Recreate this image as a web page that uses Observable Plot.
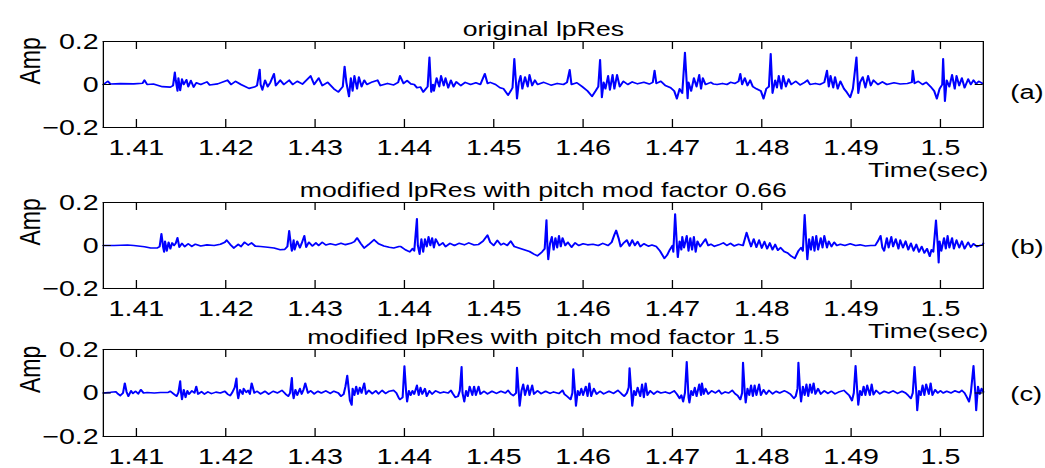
<!DOCTYPE html>
<html>
<head>
<meta charset="utf-8">
<script src="https://cdn.jsdelivr.net/npm/d3@7"></script>
<script src="https://cdn.jsdelivr.net/npm/@observablehq/plot@0.6"></script>
<style>
  html, body { margin: 0; padding: 0; background: #ffffff; }
  #wrap { position: relative; width: 1045px; height: 468px; overflow: hidden; background: #ffffff; }
  #wrap svg { position: absolute; left: 0; top: 0; transform-origin: 0 0; transform: scaleX(1.3); }
</style>
</head>
<body>
<div id="wrap"></div>
<script>
// ---- data (time in seconds, amplitude) ----
const xTicks = [1.41, 1.42, 1.43, 1.44, 1.45, 1.46, 1.47, 1.48, 1.49, 1.5];
const xTickLabels = ["1.41", "1.42", "1.43", "1.44", "1.45", "1.46", "1.47", "1.48", "1.49", "1.5"];
const yTicks = [-0.2, 0, 0.2];
const yTickLabels = ["\u22120.2", "0", "0.2"];
const titles = ["original lpRes", "modified lpRes with pitch mod factor 0.66", "modified lpRes with pitch mod factor 1.5"];
const tags = ["(a)", "(b)", "(c)"];

const originalRes = [
[1.4063,0.0],[1.4068,0.015],[1.4071,0.002],[1.4082,0.004],[1.4097,0.003],[1.4107,0.006],[1.4109,0.02],[1.4112,0.0],[1.4119,0.002],[1.4129,-0.01],
[1.4138,-0.012],[1.4141,-0.005],[1.4143,0.057],[1.4144,0.02],[1.4146,-0.03],[1.4147,0.03],[1.4149,-0.028],[1.4151,0.025],[1.4153,0.0],[1.4156,0.022],
[1.4158,-0.01],[1.4161,0.018],[1.4164,-0.012],[1.4167,0.008],[1.4172,0.0],[1.4179,0.012],[1.4182,-0.002],[1.4191,0.003],[1.4202,0.02],[1.4206,0.0],
[1.4211,0.015],[1.4217,0.0],[1.4226,-0.018],[1.4232,-0.012],[1.4235,-0.005],[1.4238,0.07],[1.4239,0.0],[1.4241,-0.025],[1.4244,0.02],[1.4247,-0.01],
[1.4250,0.01],[1.4254,0.05],[1.4256,-0.005],[1.4261,0.02],[1.4265,0.0],[1.4271,0.02],[1.4275,0.0],[1.4280,0.015],[1.4286,0.002],[1.4295,0.04],
[1.4299,0.0],[1.4304,0.03],[1.4308,-0.005],[1.4314,0.01],[1.4321,-0.02],[1.4326,-0.035],[1.4331,-0.01],[1.4333,0.084],[1.4335,0.01],[1.4338,-0.056],
[1.4340,0.03],[1.4342,-0.03],[1.4344,0.04],[1.4347,-0.02],[1.4349,0.035],[1.4352,-0.01],[1.4355,0.02],[1.4358,0.0],[1.4364,0.012],[1.4370,0.02],
[1.4373,-0.005],[1.4381,0.005],[1.4388,-0.002],[1.4393,0.01],[1.4395,0.04],[1.4399,0.005],[1.4403,0.018],[1.4407,0.003],[1.4411,0.0],[1.4414,-0.015],
[1.4418,-0.012],[1.4421,-0.035],[1.4424,-0.02],[1.4426,-0.01],[1.4428,0.127],[1.4430,-0.035],[1.4432,0.0],[1.4433,-0.03],[1.4436,0.03],[1.4439,-0.01],
[1.4441,0.04],[1.4444,-0.005],[1.4446,0.03],[1.4449,-0.015],[1.4452,0.02],[1.4455,-0.01],[1.4458,0.012],[1.4463,-0.005],[1.4468,0.01],[1.4474,0.0],
[1.4480,0.008],[1.4485,0.0],[1.4490,0.05],[1.4493,0.005],[1.4496,0.01],[1.4502,0.0],[1.4507,-0.015],[1.4511,-0.02],[1.4516,-0.05],[1.4519,-0.03],
[1.4521,-0.015],[1.4523,0.12],[1.4525,0.0],[1.4526,-0.066],[1.4528,0.01],[1.4530,0.04],[1.4532,-0.02],[1.4535,0.035],[1.4538,-0.01],[1.4540,0.045],
[1.4543,-0.005],[1.4546,0.02],[1.4549,0.0],[1.4556,0.01],[1.4564,-0.003],[1.4571,0.005],[1.4578,0.0],[1.4582,0.01],[1.4585,0.068],[1.4587,0.0],
[1.4593,0.008],[1.4599,-0.01],[1.4605,-0.03],[1.4610,-0.055],[1.4614,-0.03],[1.4617,-0.01],[1.4619,0.115],[1.4621,-0.06],[1.4623,0.01],[1.4625,-0.02],
[1.4628,0.04],[1.4630,-0.025],[1.4633,0.045],[1.4635,-0.02],[1.4638,0.045],[1.4641,-0.01],[1.4645,0.015],[1.4650,0.0],[1.4655,0.012],[1.4661,0.003],
[1.4668,0.01],[1.4674,0.002],[1.4678,0.01],[1.4680,0.065],[1.4682,0.005],[1.4687,0.015],[1.4692,-0.005],[1.4698,-0.015],[1.4702,-0.03],[1.4705,-0.066],
[1.4708,-0.02],[1.4711,-0.04],[1.4714,0.149],[1.4717,-0.065],[1.4718,0.01],[1.4721,-0.03],[1.4724,0.03],[1.4727,-0.01],[1.4730,0.045],[1.4732,-0.02],
[1.4734,0.03],[1.4737,0.0],[1.4743,0.01],[1.4746,0.002],[1.4750,0.0],[1.4756,0.005],[1.4761,0.0],[1.4765,0.01],[1.4770,0.005],[1.4774,0.015],
[1.4776,0.05],[1.4778,0.0],[1.4781,0.03],[1.4784,-0.005],[1.4787,0.02],[1.4790,-0.01],[1.4794,-0.02],[1.4799,-0.03],[1.4802,-0.066],[1.4805,-0.02],
[1.4808,-0.01],[1.4810,0.143],[1.4812,-0.04],[1.4815,0.02],[1.4817,-0.015],[1.4819,0.04],[1.4822,-0.02],[1.4824,0.04],[1.4827,-0.01],[1.4830,0.025],
[1.4833,0.0],[1.4838,0.015],[1.4843,-0.002],[1.4848,0.01],[1.4851,0.02],[1.4854,0.0],[1.4860,0.005],[1.4865,0.0],[1.4870,0.01],[1.4873,0.065],
[1.4875,-0.01],[1.4877,0.04],[1.4880,-0.015],[1.4882,0.035],[1.4885,-0.02],[1.4888,0.015],[1.4892,-0.02],[1.4895,-0.035],[1.4899,-0.06],[1.4902,-0.02],
[1.4906,0.127],[1.4908,-0.04],[1.4910,0.01],[1.4913,0.035],[1.4916,-0.015],[1.4919,0.04],[1.4922,-0.005],[1.4925,0.02],[1.4930,0.0],[1.4935,0.012],
[1.4940,0.0],[1.4948,0.008],[1.4955,0.002],[1.4963,0.005],[1.4968,0.01],[1.4969,0.065],[1.4971,0.005],[1.4975,0.015],[1.4980,0.0],[1.4984,0.01],
[1.4989,-0.01],[1.4993,-0.03],[1.4996,-0.066],[1.4999,-0.02],[1.5002,0.0],[1.5003,0.12],[1.5005,-0.078],[1.5007,0.02],[1.5010,-0.01],[1.5013,0.045],
[1.5016,-0.02],[1.5018,0.04],[1.5021,-0.005],[1.5024,0.03],[1.5027,-0.015],[1.5031,0.025],[1.5034,0.0],[1.5037,0.02],[1.5040,0.003],[1.5043,0.015],
[1.5047,0.005]
];

const modifiedRes066 = [
[1.4063,0.0],[1.4075,0.0],[1.4090,0.002],[1.4097,0.0],[1.4109,-0.006],[1.4116,-0.012],[1.4123,-0.012],[1.4126,-0.005],[1.4128,0.054],[1.4130,-0.01],
[1.4131,-0.03],[1.4132,0.02],[1.4134,-0.025],[1.4136,0.015],[1.4138,-0.015],[1.4140,0.012],[1.4142,0.0],[1.4144,0.01],[1.4146,0.036],[1.4148,-0.008],
[1.4151,0.01],[1.4154,-0.005],[1.4158,0.008],[1.4162,-0.004],[1.4166,0.006],[1.4172,-0.002],[1.4179,0.003],[1.4187,0.0],[1.4194,0.006],[1.4199,0.015],
[1.4201,0.025],[1.4205,0.005],[1.4209,-0.012],[1.4214,0.005],[1.4217,-0.005],[1.4221,0.015],[1.4225,0.002],[1.4229,0.012],[1.4233,-0.003],[1.4239,-0.005],
[1.4247,-0.008],[1.4254,-0.012],[1.4261,-0.02],[1.4266,-0.018],[1.4269,-0.005],[1.4271,0.068],[1.4273,0.0],[1.4274,-0.025],[1.4276,0.025],[1.4277,-0.02],
[1.4280,0.02],[1.4283,-0.01],[1.4285,0.01],[1.4288,0.045],[1.4290,-0.008],[1.4293,0.015],[1.4297,-0.002],[1.4301,0.012],[1.4304,0.0],[1.4308,0.015],
[1.4312,0.002],[1.4317,0.008],[1.4323,0.002],[1.4329,0.01],[1.4334,0.004],[1.4340,0.01],[1.4344,0.018],[1.4347,0.035],[1.4351,0.01],[1.4355,-0.012],
[1.4360,0.005],[1.4366,0.027],[1.4371,0.008],[1.4377,-0.002],[1.4383,-0.008],[1.4388,-0.012],[1.4394,-0.005],[1.4396,-0.005],[1.4401,-0.02],[1.4406,-0.03],
[1.4409,-0.015],[1.4411,-0.025],[1.4414,0.124],[1.4415,0.0],[1.4417,-0.04],[1.4419,0.03],[1.4421,-0.03],[1.4423,0.03],[1.4425,-0.005],[1.4427,0.04],
[1.4429,0.0],[1.4431,0.035],[1.4433,-0.01],[1.4435,0.03],[1.4439,0.0],[1.4443,0.012],[1.4446,-0.005],[1.4451,0.01],[1.4456,0.0],[1.4461,0.01],
[1.4467,0.003],[1.4472,0.012],[1.4478,0.002],[1.4483,0.005],[1.4488,0.02],[1.4493,0.048],[1.4496,0.015],[1.4500,0.0],[1.4504,0.024],[1.4508,0.003],
[1.4511,0.01],[1.4515,0.0],[1.4519,0.02],[1.4523,-0.005],[1.4528,-0.012],[1.4534,-0.02],[1.4540,-0.028],[1.4545,-0.04],[1.4549,-0.048],[1.4554,-0.03],
[1.4557,-0.015],[1.4559,0.118],[1.4560,0.0],[1.4561,-0.065],[1.4563,0.01],[1.4565,0.04],[1.4567,-0.02],[1.4569,0.035],[1.4571,-0.01],[1.4573,0.045],
[1.4575,-0.005],[1.4577,0.035],[1.4580,0.0],[1.4583,0.015],[1.4587,-0.008],[1.4591,0.012],[1.4595,0.0],[1.4600,0.008],[1.4605,0.003],[1.4611,0.006],
[1.4617,0.0],[1.4622,0.01],[1.4628,0.0],[1.4632,0.015],[1.4635,0.05],[1.4637,0.07],[1.4640,0.03],[1.4642,-0.005],[1.4645,0.01],[1.4649,0.025],
[1.4652,-0.002],[1.4655,0.025],[1.4658,0.0],[1.4661,0.018],[1.4664,-0.005],[1.4668,0.008],[1.4673,-0.003],[1.4677,0.002],[1.4682,-0.005],[1.4686,-0.025],
[1.4691,-0.06],[1.4694,-0.045],[1.4697,-0.02],[1.4700,0.0],[1.4701,-0.03],[1.4703,0.146],[1.4705,0.0],[1.4706,-0.055],[1.4708,0.02],[1.4710,-0.02],
[1.4711,0.04],[1.4713,-0.01],[1.4716,0.045],[1.4718,-0.025],[1.4720,0.035],[1.4722,-0.02],[1.4724,0.04],[1.4726,-0.03],[1.4728,0.02],[1.4731,-0.005],
[1.4734,0.012],[1.4737,0.03],[1.4740,0.0],[1.4743,0.006],[1.4747,-0.004],[1.4752,0.003],[1.4757,0.012],[1.4761,0.0],[1.4765,0.01],[1.4769,-0.002],
[1.4774,0.006],[1.4779,0.0],[1.4781,0.03],[1.4783,0.06],[1.4786,0.02],[1.4788,-0.005],[1.4791,0.03],[1.4794,-0.008],[1.4797,0.025],[1.4800,-0.012],
[1.4803,0.018],[1.4806,-0.015],[1.4809,0.012],[1.4812,-0.02],[1.4815,0.005],[1.4818,-0.022],[1.4821,-0.01],[1.4825,-0.028],[1.4829,-0.035],[1.4833,-0.05],
[1.4837,-0.06],[1.4841,-0.025],[1.4844,-0.01],[1.4846,-0.025],[1.4848,0.143],[1.4850,0.0],[1.4851,-0.065],[1.4853,0.03],[1.4855,-0.02],[1.4857,0.04],
[1.4859,-0.025],[1.4861,0.045],[1.4863,-0.02],[1.4866,0.035],[1.4868,-0.01],[1.4870,0.045],[1.4873,-0.01],[1.4875,0.02],[1.4878,-0.005],[1.4881,0.015],
[1.4884,0.0],[1.4888,0.006],[1.4893,0.0],[1.4899,0.008],[1.4905,0.0],[1.4910,0.003],[1.4916,-0.002],[1.4922,0.0],[1.4927,0.0],[1.4930,0.02],
[1.4933,0.045],[1.4935,-0.01],[1.4937,-0.025],[1.4940,0.035],[1.4942,-0.01],[1.4945,0.04],[1.4947,-0.005],[1.4950,0.03],[1.4953,-0.015],[1.4955,0.025],
[1.4958,-0.01],[1.4961,0.02],[1.4964,-0.02],[1.4967,0.01],[1.4970,-0.025],[1.4973,0.005],[1.4976,-0.03],[1.4979,-0.005],[1.4982,-0.035],[1.4985,-0.015],
[1.4988,-0.05],[1.4990,-0.02],[1.4992,-0.03],[1.4995,0.117],[1.4997,0.0],[1.4998,-0.08],[1.4999,0.02],[1.5001,-0.025],[1.5004,0.035],[1.5006,-0.015],
[1.5008,0.045],[1.5010,-0.01],[1.5013,0.035],[1.5015,-0.015],[1.5018,0.025],[1.5021,-0.01],[1.5024,0.02],[1.5027,-0.015],[1.5031,0.015],[1.5034,-0.008],
[1.5037,0.008],[1.5041,-0.005],[1.5044,0.0],[1.5047,0.002],[1.5048,0.01]
];

const modifiedRes15 = [
[1.4063,0.0],[1.4071,0.003],[1.4077,0.006],[1.4079,-0.003],[1.4082,-0.012],[1.4085,0.0],[1.4087,0.045],[1.4089,0.005],[1.4091,-0.015],[1.4094,0.01],
[1.4096,-0.002],[1.4099,0.008],[1.4102,-0.004],[1.4105,0.015],[1.4108,0.0],[1.4112,0.002],[1.4120,0.0],[1.4127,0.002],[1.4135,0.002],[1.4138,0.008],
[1.4142,-0.005],[1.4145,-0.015],[1.4147,0.002],[1.4149,0.055],[1.4150,0.0],[1.4151,-0.03],[1.4153,0.015],[1.4155,-0.02],[1.4157,0.01],[1.4159,-0.005],
[1.4162,0.01],[1.4165,0.0],[1.4167,0.03],[1.4169,-0.005],[1.4173,0.006],[1.4176,-0.005],[1.4180,0.005],[1.4184,-0.003],[1.4189,0.004],[1.4194,0.0],
[1.4199,0.008],[1.4202,-0.005],[1.4205,-0.012],[1.4207,0.0],[1.4210,0.025],[1.4212,0.067],[1.4213,0.0],[1.4214,-0.025],[1.4216,0.015],[1.4219,-0.005],
[1.4220,0.02],[1.4223,0.003],[1.4225,0.012],[1.4227,-0.005],[1.4229,0.045],[1.4232,0.0],[1.4235,0.008],[1.4239,-0.004],[1.4244,0.008],[1.4248,-0.005],
[1.4253,0.008],[1.4258,0.0],[1.4263,0.012],[1.4267,-0.005],[1.4270,-0.015],[1.4272,0.0],[1.4274,0.07],[1.4275,0.0],[1.4276,-0.025],[1.4278,0.015],
[1.4280,-0.01],[1.4283,0.02],[1.4285,-0.005],[1.4287,0.015],[1.4289,0.045],[1.4292,0.0],[1.4295,0.01],[1.4299,-0.004],[1.4303,0.008],[1.4307,0.0],
[1.4312,0.01],[1.4317,-0.002],[1.4321,0.008],[1.4326,0.0],[1.4329,-0.015],[1.4332,-0.005],[1.4334,0.03],[1.4336,0.08],[1.4338,0.005],[1.4339,-0.035],
[1.4341,-0.055],[1.4342,0.02],[1.4344,-0.01],[1.4346,0.03],[1.4348,-0.005],[1.4350,0.025],[1.4352,0.0],[1.4355,0.045],[1.4357,-0.005],[1.4360,0.012],
[1.4364,-0.003],[1.4368,0.01],[1.4371,-0.004],[1.4375,0.012],[1.4379,-0.002],[1.4383,0.008],[1.4388,0.012],[1.4391,0.0],[1.4394,-0.025],[1.4395,-0.03],
[1.4398,-0.02],[1.4400,0.124],[1.4402,0.0],[1.4403,-0.04],[1.4405,0.01],[1.4407,-0.01],[1.4409,0.01],[1.4411,-0.005],[1.4414,0.035],[1.4416,-0.01],
[1.4418,0.025],[1.4420,-0.005],[1.4423,0.02],[1.4425,-0.015],[1.4428,0.01],[1.4431,-0.005],[1.4435,0.01],[1.4440,0.0],[1.4444,0.005],[1.4449,0.0],
[1.4452,0.012],[1.4454,-0.002],[1.4457,-0.02],[1.4460,-0.015],[1.4462,0.01],[1.4464,0.12],[1.4465,0.0],[1.4467,-0.04],[1.4469,0.01],[1.4471,-0.015],
[1.4473,0.03],[1.4476,-0.01],[1.4478,0.03],[1.4480,-0.01],[1.4483,0.03],[1.4485,-0.005],[1.4489,0.008],[1.4493,-0.004],[1.4498,0.008],[1.4503,-0.002],
[1.4508,0.008],[1.4513,0.0],[1.4516,0.012],[1.4519,-0.004],[1.4522,-0.012],[1.4525,0.0],[1.4526,0.117],[1.4528,0.0],[1.4529,-0.06],[1.4531,0.01],
[1.4533,0.04],[1.4535,-0.01],[1.4538,0.035],[1.4540,-0.01],[1.4543,0.035],[1.4545,-0.005],[1.4549,0.01],[1.4553,-0.003],[1.4558,0.008],[1.4563,-0.002],
[1.4567,0.005],[1.4573,-0.002],[1.4577,0.012],[1.4579,-0.005],[1.4582,-0.015],[1.4586,-0.03],[1.4588,0.0],[1.4589,0.11],[1.4591,0.0],[1.4592,-0.06],
[1.4594,0.01],[1.4596,-0.01],[1.4598,0.02],[1.4600,-0.01],[1.4603,0.03],[1.4605,-0.015],[1.4607,0.045],[1.4609,-0.015],[1.4612,0.02],[1.4615,-0.005],
[1.4619,0.008],[1.4623,-0.004],[1.4629,0.008],[1.4634,-0.002],[1.4639,0.012],[1.4643,-0.004],[1.4646,-0.015],[1.4649,0.0],[1.4651,0.025],[1.4652,0.115],
[1.4654,0.0],[1.4655,-0.06],[1.4657,0.01],[1.4659,-0.01],[1.4661,0.025],[1.4664,-0.015],[1.4666,0.04],[1.4668,-0.02],[1.4670,0.045],[1.4672,-0.01],
[1.4675,0.01],[1.4679,-0.005],[1.4683,0.008],[1.4687,0.0],[1.4692,0.005],[1.4697,-0.002],[1.4702,0.01],[1.4705,-0.005],[1.4708,-0.025],[1.4710,-0.01],
[1.4712,-0.04],[1.4714,0.0],[1.4716,0.143],[1.4718,-0.02],[1.4719,-0.045],[1.4721,0.01],[1.4723,-0.01],[1.4725,0.025],[1.4727,-0.015],[1.4730,0.04],
[1.4732,-0.01],[1.4733,0.045],[1.4735,-0.005],[1.4737,0.02],[1.4740,-0.005],[1.4744,0.01],[1.4748,0.0],[1.4752,0.012],[1.4755,-0.004],[1.4759,0.005],
[1.4763,0.0],[1.4767,0.012],[1.4770,-0.003],[1.4773,-0.012],[1.4776,-0.03],[1.4778,0.0],[1.4779,0.14],[1.4781,0.0],[1.4782,-0.045],[1.4784,0.02],
[1.4786,-0.01],[1.4788,0.035],[1.4790,-0.015],[1.4792,0.035],[1.4794,-0.01],[1.4797,0.04],[1.4799,-0.01],[1.4802,0.015],[1.4805,-0.005],[1.4808,0.012],
[1.4812,-0.004],[1.4816,0.008],[1.4820,0.0],[1.4825,0.01],[1.4828,0.005],[1.4832,-0.005],[1.4836,-0.025],[1.4838,-0.015],[1.4840,0.02],[1.4841,0.14],
[1.4843,0.0],[1.4844,-0.04],[1.4846,0.03],[1.4848,-0.01],[1.4850,0.04],[1.4852,-0.015],[1.4854,0.04],[1.4856,0.0],[1.4858,0.045],[1.4860,-0.005],
[1.4863,0.02],[1.4866,-0.005],[1.4870,0.01],[1.4874,-0.002],[1.4878,0.008],[1.4882,-0.004],[1.4887,0.006],[1.4892,0.012],[1.4895,0.0],[1.4898,-0.012],
[1.4901,-0.035],[1.4903,0.0],[1.4905,0.125],[1.4907,0.0],[1.4908,-0.055],[1.4910,0.01],[1.4912,-0.01],[1.4914,0.03],[1.4916,-0.01],[1.4918,0.035],
[1.4921,-0.01],[1.4923,0.04],[1.4925,-0.008],[1.4928,0.012],[1.4932,-0.004],[1.4937,0.008],[1.4942,0.0],[1.4947,0.01],[1.4952,-0.002],[1.4957,0.008],
[1.4961,0.0],[1.4964,-0.012],[1.4967,-0.025],[1.4969,0.0],[1.4971,0.12],[1.4973,0.0],[1.4974,-0.08],[1.4976,0.01],[1.4978,-0.01],[1.4980,0.035],
[1.4982,-0.01],[1.4984,0.04],[1.4987,-0.005],[1.4989,0.045],[1.4991,-0.01],[1.4994,0.015],[1.4997,0.0],[1.5000,0.01],[1.5003,0.0],[1.5007,0.008],
[1.5012,0.0],[1.5016,0.01],[1.5021,0.002],[1.5024,0.012],[1.5027,0.0],[1.5029,-0.015],[1.5032,-0.04],[1.5034,0.0],[1.5037,0.125],[1.5039,0.0],
[1.5040,-0.08],[1.5042,0.03],[1.5044,-0.005],[1.5046,0.02],[1.5048,0.005]
];

// ---- layout ----
const S = 1.3;                     // horizontal stretch of the reference
const W = 1045 / S;
const frameLeft = 102.7, frameRight = 982.7;
const panels = [
  {data: originalRes, top: 41, bottom: 127, timeLabel: true, tagDy: 8},
  {data: modifiedRes066, top: 202, bottom: 288, timeLabel: true, tagDy: 2},
  {data: modifiedRes15, top: 349, bottom: 436, timeLabel: false, tagDy: 1}
];

const wrap = document.getElementById("wrap");
panels.forEach((p, i) => {
  const frameH = p.bottom - p.top;
  const frameW = (frameRight - frameLeft) / S;
  const tick = 8;
  const rows = p.data.map(([t, v]) => ({t, v}));
  const marks = [
    Plot.line(rows, {x: "t", y: "v", stroke: "#0000ff", strokeWidth: 1.6}),
    Plot.frame({stroke: "#000"}),
    Plot.tickX(xTicks, {x: d => d, insetTop: frameH - tick, stroke: "#000"}),
    Plot.tickX(xTicks, {x: d => d, insetBottom: frameH - tick, stroke: "#000"}),
    Plot.tickY(yTicks, {y: d => d, insetRight: frameW - tick / S, stroke: "#000"}),
    Plot.tickY(yTicks, {y: d => d, insetLeft: frameW - tick / S, stroke: "#000"}),
    Plot.axisX(xTicks, {tickSize: 0, tickPadding: 12, label: null, fontSize: 22,
      tickFormat: d => xTickLabels[xTicks.indexOf(d)]}),
    Plot.axisY(yTicks, {tickSize: 0, tickPadding: 3.6, label: null, fontSize: 22,
      tickFormat: d => yTickLabels[yTicks.indexOf(d)]}),
    Plot.text([titles[i]], {frameAnchor: "top", lineAnchor: "bottom", dy: -5, fontSize: 20.5, fill: "#000"}),
    Plot.text(["Amp"], {frameAnchor: "left", rotate: -90, dx: -(frameLeft - 30) / S, fontSize: 23, fill: "#000"}),
    Plot.text([tags[i]], {frameAnchor: "right", textAnchor: "start", dx: 27 / S, dy: p.tagDy, fontSize: 21, fill: "#000"})
  ];
  if (p.timeLabel) {
    marks.push(Plot.text(["Time(sec)"], {frameAnchor: "bottom-right", textAnchor: "end", lineAnchor: "bottom",
      dx: 5 / S, dy: 50, fontSize: 21, fill: "#000"}));
  }
  const svg = Plot.plot({
    width: W,
    height: 468,
    marginLeft: frameLeft / S,
    marginRight: (1045 - frameRight) / S,
    marginTop: p.top,
    marginBottom: 468 - p.bottom,
    x: {domain: [1.4063, 1.5048]},
    y: {domain: [-0.2, 0.2]},
    style: {background: "transparent", fontFamily: "'Liberation Sans', Arial, Helvetica, sans-serif",
            fontSize: "22px", color: "#000", overflow: "visible"},
    marks
  });
  wrap.appendChild(svg);
});
</script>
</body>
</html>
